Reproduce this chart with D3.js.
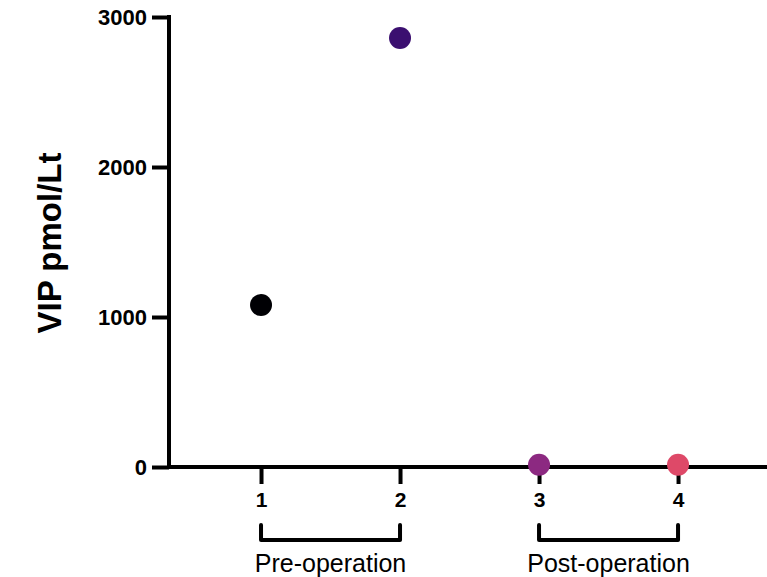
<!DOCTYPE html>
<html>
<head>
<meta charset="utf-8">
<script src="https://cdn.jsdelivr.net/npm/d3@7"></script>
<style>
html,body{margin:0;padding:0;background:#fff;}
svg{display:block;font-family:Arial,"Liberation Sans",sans-serif;}
</style>
</head>
<body>
<svg id="chart" width="767" height="577"></svg>
<script>
const categories = [1, 2, 3, 4];
const values = [1080, 2860, 15, 15];
const colors = ["#000004", "#3b0f70", "#8c2981", "#de4968"];
const yTicks = [0, 1000, 2000, 3000];
const groups = [
  {label: "Pre-operation", from: 1, to: 2},
  {label: "Post-operation", from: 3, to: 4}
];
const yTitle = "VIP pmol/Lt";

const svg = d3.select("#chart");
const x = d3.scaleLinear().domain([0.338, 4.64]).range([169, 767]);
const y = d3.scaleLinear().domain([0, 3000]).range([467, 17]);
const lw = 4;
const ff = "Arial, 'Liberation Sans', sans-serif";

// Y axis
const yAxis = svg.append("g").attr("transform", `translate(${x.range()[0]},0)`)
  .call(d3.axisLeft(y).tickValues(yTicks).tickSize(17).tickPadding(5).tickFormat(d3.format("d")));
yAxis.select(".domain").attr("stroke", "#000").attr("stroke-width", lw)
  .attr("d", `M0,${y(0) + 1}V${y(3000) - lw / 2}`);
yAxis.selectAll(".tick line").attr("stroke", "#000").attr("stroke-width", lw);
yAxis.selectAll(".tick text").attr("fill", "#000").attr("font-weight", "bold")
  .style("font-size", "22px").style("font-family", ff);

// X axis
const xAxis = svg.append("g").attr("transform", `translate(0,${y(0)})`)
  .call(d3.axisBottom(x).tickValues(categories).tickSize(17).tickPadding(8).tickFormat(d3.format("d")));
xAxis.select(".domain").attr("stroke", "#000").attr("stroke-width", lw)
  .attr("d", `M${x.range()[0] - lw / 2},0H${x.range()[1]}`);
xAxis.selectAll(".tick line").attr("stroke", "#000").attr("stroke-width", lw);
xAxis.selectAll(".tick text").attr("fill", "#000").attr("font-weight", "bold")
  .style("font-size", "21px").style("font-family", ff);

// Group brackets
const gb = svg.append("g");
groups.forEach(g => {
  const x1 = x(g.from), x2 = x(g.to);
  gb.append("path")
    .attr("d", `M${x1},525V540H${x2}V525`)
    .attr("fill", "none").attr("stroke", "#000").attr("stroke-width", lw)
    .attr("stroke-linejoin", "round").attr("stroke-linecap", "round");
  gb.append("text").attr("x", (x1 + x2) / 2).attr("y", 572)
    .attr("text-anchor", "middle").style("font-size", "25px").attr("fill", "#000")
    .text(g.label);
});

// Y title
svg.append("text")
  .attr("transform", `translate(61,243) rotate(-90)`)
  .attr("text-anchor", "middle").style("font-size", "33px").attr("font-weight", "bold").attr("fill", "#000")
  .text(yTitle);

// Points
svg.append("g").selectAll("circle").data(categories).join("circle")
  .attr("cx", d => x(d))
  .attr("cy", (d, i) => y(values[i]))
  .attr("r", 11)
  .attr("fill", (d, i) => colors[i]);
</script>
</body>
</html>
